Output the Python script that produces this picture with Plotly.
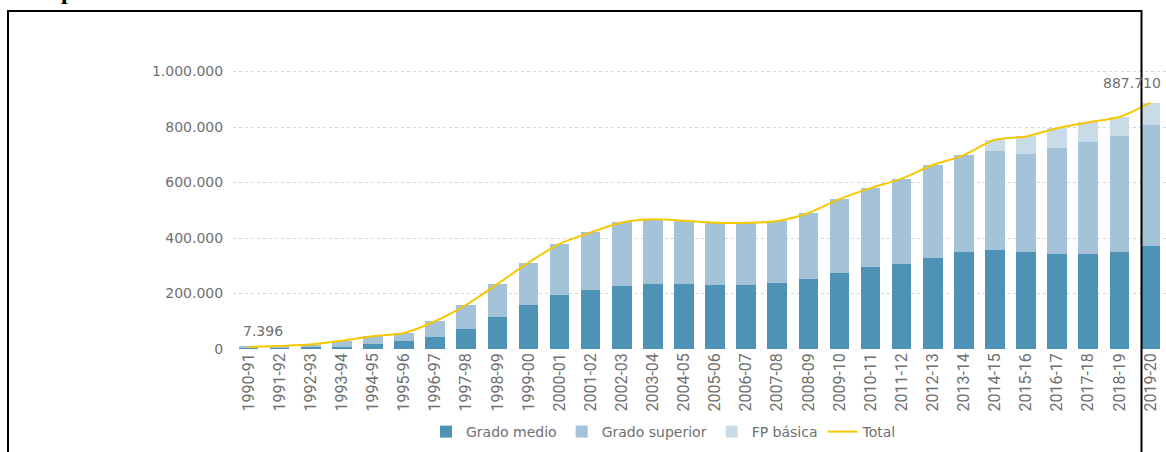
import plotly.graph_objects as go

cursos = ["1990-91", "1991-92", "1992-93", "1993-94", "1994-95", "1995-96",
          "1996-97", "1997-98", "1998-99", "1999-00", "2000-01", "2001-02",
          "2002-03", "2003-04", "2004-05", "2005-06", "2006-07", "2007-08",
          "2008-09", "2009-10", "2010-11", "2011-12", "2012-13", "2013-14",
          "2014-15", "2015-16", "2016-17", "2017-18", "2018-19", "2019-20"]

grado_medio = [4500, 5000, 6000, 9000, 17000, 29000,
               44000, 73000, 116000, 157000, 193000, 213000,
               226000, 233000, 234000, 232000, 232000, 238000,
               254000, 275000, 295000, 308000, 329000, 349000,
               358000, 349000, 342000, 342000, 349000, 370000]

grado_superior = [2896, 6000, 10000, 21000, 29000, 29000,
                  56000, 86000, 118000, 154000, 186000, 207000,
                  230000, 235000, 228000, 223000, 223000, 223000,
                  236000, 265000, 285000, 306000, 334000, 350000,
                  354000, 355000, 382000, 404000, 417000, 437000]

fp_basica = [0, 0, 0, 0, 0, 0,
             0, 0, 0, 0, 0, 0,
             0, 0, 0, 0, 0, 0,
             0, 0, 0, 0, 0, 0,
             42000, 62000, 72000, 71000, 70000, 80710]

total = [m + s + f for m, s, f in zip(grado_medio, grado_superior, fp_basica)]

y_ticks = [0, 200000, 400000, 600000, 800000, 1000000]

TXT = "#6f6f6f"
FONT = "DejaVu Sans"

fig = go.Figure()
fig.add_bar(x=cursos, y=grado_medio, name="Grado medio", marker_color="#4e93b5",
            marker_line_width=0)
fig.add_bar(x=cursos, y=grado_superior, name="Grado superior", marker_color="#a4c2d8",
            marker_line_width=0)
fig.add_bar(x=cursos, y=fp_basica, name="FP básica", marker_color="#c9dbe7",
            marker_line_width=0)
fig.add_scatter(x=cursos, y=total, name="Total", mode="lines",
                line=dict(color="#f5c802", width=2, shape="spline", smoothing=0.8))

def fmt(v):
    return f"{v:,}".replace(",", ".")

fig.add_annotation(x=cursos[0], y=total[0], text=fmt(total[0]), showarrow=False,
                   xshift=14, yshift=16, font=dict(family=FONT, size=14, color=TXT))
fig.add_annotation(x=cursos[-1], y=total[-1], text=fmt(total[-1]), showarrow=False,
                   xshift=-18, yshift=20, font=dict(family=FONT, size=14, color=TXT))

# fragment of heading text above the framed image
fig.add_annotation(xref="paper", yref="paper", x=(67 - 233) / 933, y=(349 - 6) / 283,
                   xanchor="center", yanchor="bottom", text="<b>p</b>", showarrow=False,
                   font=dict(family="Liberation Serif", size=24, color="#000000"))

# black frame of the screenshot
fig.add_shape(type="rect", xref="paper", yref="paper",
              x0=(8 - 233) / 933, x1=(1141.5 - 233) / 933,
              y0=(349 - 470) / 283, y1=(349 - 11) / 283,
              line=dict(color="#000000", width=2), fillcolor="rgba(0,0,0,0)", layer="above")

fig.update_layout(
    width=1166, height=452,
    margin=dict(l=233, r=0, t=66, b=103),
    paper_bgcolor="white", plot_bgcolor="white",
    barmode="stack", bargap=0.37,
    separators=",.",
    showlegend=True,
    legend=dict(orientation="h", x=(664 - 233) / 933, xanchor="center",
                y=(349 - 432) / 283, yanchor="middle", traceorder="normal",
                font=dict(family=FONT, size=14, color=TXT)),
    xaxis=dict(type="category", range=[-0.5, 29.5], showgrid=False, showline=False,
               zeroline=False, ticks="", tickangle=-90,
               tickfont=dict(family="Roboto", size=16, color=TXT)),
    yaxis=dict(range=[0, 1020000], tickvals=y_ticks, tickformat=",d",
               showgrid=True, gridcolor="#d4d4d4", griddash="dot", gridwidth=1,
               zeroline=False, showline=False, ticks="outside", ticklen=6,
               tickcolor="rgba(0,0,0,0)",
               tickfont=dict(family=FONT, size=14, color=TXT)),
)

fig.write_html("out.html", config={"displayModeBar": False},
               post_script="document.body.style.margin='0';document.body.style.overflow='hidden';")
